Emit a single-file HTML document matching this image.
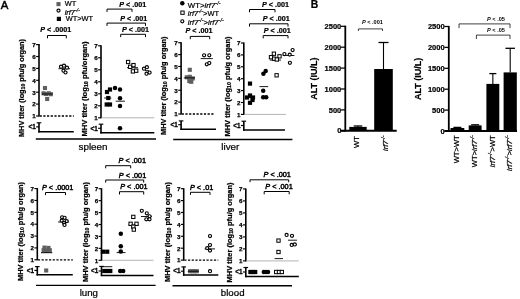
<!DOCTYPE html>
<html><head><meta charset="utf-8"><title>Figure</title>
<style>
html,body{margin:0;padding:0;background:#fff;}
svg{display:block;font-family:"Liberation Sans", sans-serif;}
</style></head><body>
<svg width="520" height="299" viewBox="0 0 520 299">
<rect width="520" height="299" fill="#fff"/>
<text x="0.70" y="8.50" font-size="11.4" font-weight="normal" font-style="normal" text-anchor="start" fill="#000" stroke="#000" stroke-width="0.45">A</text>
<text x="310.80" y="8.30" font-size="10.4" font-weight="bold" font-style="normal" text-anchor="start" fill="#000" stroke="#000" stroke-width="0.22">B</text>
<rect x="56.45" y="2.05" width="4.1" height="4.1" fill="#606060"/>
<text x="64.70" y="6.30" font-size="7.4" font-weight="normal" font-style="normal" text-anchor="start" fill="#000" stroke="#000" stroke-width="0.22">WT</text>
<circle cx="58.50" cy="10.60" r="1.55" fill="#fff" stroke="#000" stroke-width="1.15"/>
<text x="64.70" y="14.50" font-size="7.4" font-weight="normal" font-style="normal" text-anchor="start" fill="#000" stroke="#000" stroke-width="0.22"><tspan font-style="italic">irf7</tspan><tspan font-style="italic" baseline-shift="super" font-size="70%">-/-</tspan></text>
<rect x="56.80" y="16.80" width="4.2" height="4.2" fill="#000"/>
<text x="65.70" y="21.20" font-size="7.4" font-weight="normal" font-style="normal" text-anchor="start" fill="#000" stroke="#000" stroke-width="0.22">WT&gt;WT</text>
<circle cx="182.30" cy="3.30" r="2.25" fill="#000"/>
<text x="187.80" y="8.00" font-size="7.4" font-weight="normal" font-style="normal" text-anchor="start" fill="#000" stroke="#000" stroke-width="0.22" textLength="32.7" lengthAdjust="spacingAndGlyphs">WT&gt;<tspan font-style="italic">irf7</tspan><tspan font-style="italic" baseline-shift="super" font-size="70%">-/-</tspan></text>
<rect x="180.85" y="11.05" width="3.3" height="3.3" fill="#fff" stroke="#000" stroke-width="1.0"/>
<text x="187.80" y="16.40" font-size="7.4" font-weight="normal" font-style="normal" text-anchor="start" fill="#000" stroke="#000" stroke-width="0.22" textLength="31.2" lengthAdjust="spacingAndGlyphs"><tspan font-style="italic">irf7</tspan><tspan font-style="italic" baseline-shift="super" font-size="70%">-/-</tspan>&gt;WT</text>
<circle cx="182.30" cy="21.30" r="1.55" fill="#fff" stroke="#000" stroke-width="1.15"/>
<text x="187.80" y="25.00" font-size="7.4" font-weight="normal" font-style="normal" text-anchor="start" fill="#000" stroke="#000" stroke-width="0.22" textLength="35.9" lengthAdjust="spacingAndGlyphs"><tspan font-style="italic">irf7</tspan><tspan font-style="italic" baseline-shift="super" font-size="70%">-/-</tspan>&gt;<tspan font-style="italic">irf7</tspan><tspan font-style="italic" baseline-shift="super" font-size="70%">-/-</tspan></text>
<line x1="39.00" y1="44.10" x2="39.00" y2="116.50" stroke="#000" stroke-width="1.6" />
<line x1="36.10" y1="116.00" x2="39.00" y2="116.00" stroke="#000" stroke-width="1.15" />
<text x="35.70" y="118.30" font-size="6.2" font-weight="bold" font-style="normal" text-anchor="end" fill="#000" stroke="#000" stroke-width="0.25">1</text>
<line x1="36.10" y1="104.10" x2="39.00" y2="104.10" stroke="#000" stroke-width="1.15" />
<text x="35.70" y="106.40" font-size="6.2" font-weight="bold" font-style="normal" text-anchor="end" fill="#000" stroke="#000" stroke-width="0.25">2</text>
<line x1="36.10" y1="92.20" x2="39.00" y2="92.20" stroke="#000" stroke-width="1.15" />
<text x="35.70" y="94.50" font-size="6.2" font-weight="bold" font-style="normal" text-anchor="end" fill="#000" stroke="#000" stroke-width="0.25">3</text>
<line x1="36.10" y1="80.30" x2="39.00" y2="80.30" stroke="#000" stroke-width="1.15" />
<text x="35.70" y="82.60" font-size="6.2" font-weight="bold" font-style="normal" text-anchor="end" fill="#000" stroke="#000" stroke-width="0.25">4</text>
<line x1="36.10" y1="68.40" x2="39.00" y2="68.40" stroke="#000" stroke-width="1.15" />
<text x="35.70" y="70.70" font-size="6.2" font-weight="bold" font-style="normal" text-anchor="end" fill="#000" stroke="#000" stroke-width="0.25">5</text>
<line x1="36.10" y1="56.50" x2="39.00" y2="56.50" stroke="#000" stroke-width="1.15" />
<text x="35.70" y="58.80" font-size="6.2" font-weight="bold" font-style="normal" text-anchor="end" fill="#000" stroke="#000" stroke-width="0.25">6</text>
<line x1="36.10" y1="44.60" x2="39.00" y2="44.60" stroke="#000" stroke-width="1.15" />
<text x="35.70" y="46.90" font-size="6.2" font-weight="bold" font-style="normal" text-anchor="end" fill="#000" stroke="#000" stroke-width="0.25">7</text>
<line x1="39.60" y1="116.00" x2="73.80" y2="116.00" stroke="#000" stroke-width="1.35" stroke-dasharray="2.2 1.5"/>
<line x1="39.00" y1="122.80" x2="39.00" y2="132.40" stroke="#000" stroke-width="1.6" />
<line x1="36.70" y1="122.80" x2="41.30" y2="122.80" stroke="#000" stroke-width="1.15" />
<line x1="36.10" y1="126.90" x2="39.00" y2="126.90" stroke="#000" stroke-width="1.15" />
<text x="35.70" y="129.10" font-size="6.3" font-weight="bold" font-style="normal" text-anchor="end" fill="#000" stroke="#000" stroke-width="0.3">&lt;1</text>
<line x1="38.30" y1="131.70" x2="73.80" y2="131.70" stroke="#000" stroke-width="1.5" />
<text x="24.00" y="88.00" font-size="6.6" font-weight="bold" text-anchor="middle" stroke="#000" stroke-width="0.22" transform="rotate(-90 24.00 88.00)" textLength="98" lengthAdjust="spacingAndGlyphs">MHV titer (log<tspan font-size="70%" dy="1.2">10</tspan><tspan dy="-1.2"> pfu/g organ)</tspan></text>
<rect x="42.95" y="85.95" width="4.1" height="4.1" fill="#606060"/>
<rect x="41.45" y="91.25" width="4.1" height="4.1" fill="#606060"/>
<rect x="43.95" y="91.95" width="4.1" height="4.1" fill="#606060"/>
<rect x="46.75" y="91.25" width="4.1" height="4.1" fill="#606060"/>
<rect x="48.75" y="92.15" width="4.1" height="4.1" fill="#606060"/>
<rect x="45.15" y="96.95" width="4.1" height="4.1" fill="#606060"/>
<line x1="42.00" y1="94.00" x2="52.80" y2="94.00" stroke="#000" stroke-width="0.9" />
<line x1="58.50" y1="68.70" x2="70.00" y2="68.70" stroke="#000" stroke-width="0.9" />
<circle cx="61.00" cy="66.70" r="1.55" fill="#fff" stroke="#000" stroke-width="1.15"/>
<circle cx="64.00" cy="65.70" r="1.55" fill="#fff" stroke="#000" stroke-width="1.15"/>
<circle cx="67.00" cy="67.70" r="1.55" fill="#fff" stroke="#000" stroke-width="1.15"/>
<circle cx="63.50" cy="70.70" r="1.55" fill="#fff" stroke="#000" stroke-width="1.15"/>
<circle cx="65.50" cy="72.50" r="1.55" fill="#fff" stroke="#000" stroke-width="1.15"/>
<text x="55.80" y="31.50" font-size="7.2" font-weight="bold" text-anchor="middle" stroke="#000" stroke-width="0.22"><tspan font-style="italic">P</tspan> &lt; .0001</text>
<path d="M47.50 38.30V35.50H66.30V38.30" fill="none" stroke="#000" stroke-width="1.0"/>
<line x1="101.00" y1="45.30" x2="101.00" y2="118.30" stroke="#000" stroke-width="1.6" />
<line x1="98.10" y1="117.80" x2="101.00" y2="117.80" stroke="#000" stroke-width="1.15" />
<text x="97.70" y="120.10" font-size="6.2" font-weight="bold" font-style="normal" text-anchor="end" fill="#000" stroke="#000" stroke-width="0.25">1</text>
<line x1="98.10" y1="105.80" x2="101.00" y2="105.80" stroke="#000" stroke-width="1.15" />
<text x="97.70" y="108.10" font-size="6.2" font-weight="bold" font-style="normal" text-anchor="end" fill="#000" stroke="#000" stroke-width="0.25">2</text>
<line x1="98.10" y1="93.80" x2="101.00" y2="93.80" stroke="#000" stroke-width="1.15" />
<text x="97.70" y="96.10" font-size="6.2" font-weight="bold" font-style="normal" text-anchor="end" fill="#000" stroke="#000" stroke-width="0.25">3</text>
<line x1="98.10" y1="81.80" x2="101.00" y2="81.80" stroke="#000" stroke-width="1.15" />
<text x="97.70" y="84.10" font-size="6.2" font-weight="bold" font-style="normal" text-anchor="end" fill="#000" stroke="#000" stroke-width="0.25">4</text>
<line x1="98.10" y1="69.80" x2="101.00" y2="69.80" stroke="#000" stroke-width="1.15" />
<text x="97.70" y="72.10" font-size="6.2" font-weight="bold" font-style="normal" text-anchor="end" fill="#000" stroke="#000" stroke-width="0.25">5</text>
<line x1="98.10" y1="57.80" x2="101.00" y2="57.80" stroke="#000" stroke-width="1.15" />
<text x="97.70" y="60.10" font-size="6.2" font-weight="bold" font-style="normal" text-anchor="end" fill="#000" stroke="#000" stroke-width="0.25">6</text>
<line x1="98.10" y1="45.80" x2="101.00" y2="45.80" stroke="#000" stroke-width="1.15" />
<text x="97.70" y="48.10" font-size="6.2" font-weight="bold" font-style="normal" text-anchor="end" fill="#000" stroke="#000" stroke-width="0.25">7</text>
<line x1="101.50" y1="117.80" x2="154.30" y2="117.80" stroke="#999" stroke-width="0.75" />
<line x1="101.00" y1="124.20" x2="101.00" y2="133.40" stroke="#000" stroke-width="1.6" />
<line x1="98.70" y1="124.20" x2="103.30" y2="124.20" stroke="#000" stroke-width="1.15" />
<line x1="98.10" y1="128.30" x2="101.00" y2="128.30" stroke="#000" stroke-width="1.15" />
<text x="97.70" y="130.50" font-size="6.3" font-weight="bold" font-style="normal" text-anchor="end" fill="#000" stroke="#000" stroke-width="0.3">&lt;1</text>
<line x1="100.30" y1="132.70" x2="154.30" y2="132.70" stroke="#000" stroke-width="1.5" />
<text x="87.00" y="89.00" font-size="6.6" font-weight="bold" text-anchor="middle" stroke="#000" stroke-width="0.22" transform="rotate(-90 87.00 89.00)" textLength="95" lengthAdjust="spacingAndGlyphs">MHV titer (log<tspan font-size="70%" dy="1.2">10</tspan><tspan dy="-1.2"> pfu/organ)</tspan></text>
<line x1="104.20" y1="98.00" x2="111.30" y2="98.00" stroke="#000" stroke-width="0.9" />
<rect x="107.90" y="87.40" width="4.2" height="4.2" fill="#000"/>
<rect x="104.90" y="89.90" width="4.2" height="4.2" fill="#000"/>
<rect x="106.20" y="95.90" width="4.2" height="4.2" fill="#000"/>
<rect x="104.60" y="102.40" width="4.2" height="4.2" fill="#000"/>
<rect x="107.90" y="102.40" width="4.2" height="4.2" fill="#000"/>
<line x1="115.70" y1="101.20" x2="125.00" y2="101.20" stroke="#000" stroke-width="0.9" />
<circle cx="115.00" cy="88.00" r="2.25" fill="#000"/>
<circle cx="120.00" cy="89.40" r="2.25" fill="#000"/>
<circle cx="120.00" cy="98.20" r="2.25" fill="#000"/>
<circle cx="120.00" cy="106.00" r="2.25" fill="#000"/>
<circle cx="120.00" cy="128.30" r="2.25" fill="#000"/>
<line x1="127.00" y1="67.70" x2="138.00" y2="67.70" stroke="#000" stroke-width="0.9" />
<rect x="126.45" y="60.35" width="3.3" height="3.3" fill="#fff" stroke="#000" stroke-width="1.0"/>
<rect x="128.55" y="65.15" width="3.3" height="3.3" fill="#fff" stroke="#000" stroke-width="1.0"/>
<rect x="131.85" y="63.45" width="3.3" height="3.3" fill="#fff" stroke="#000" stroke-width="1.0"/>
<rect x="131.25" y="69.75" width="3.3" height="3.3" fill="#fff" stroke="#000" stroke-width="1.0"/>
<rect x="134.55" y="69.05" width="3.3" height="3.3" fill="#fff" stroke="#000" stroke-width="1.0"/>
<line x1="145.00" y1="70.60" x2="149.00" y2="70.60" stroke="#000" stroke-width="0.9" />
<circle cx="144.00" cy="68.70" r="1.55" fill="#fff" stroke="#000" stroke-width="1.15"/>
<circle cx="146.90" cy="67.20" r="1.55" fill="#fff" stroke="#000" stroke-width="1.15"/>
<circle cx="146.50" cy="73.70" r="1.55" fill="#fff" stroke="#000" stroke-width="1.15"/>
<circle cx="149.60" cy="72.60" r="1.55" fill="#fff" stroke="#000" stroke-width="1.15"/>
<text x="132.80" y="6.70" font-size="7.2" font-weight="bold" text-anchor="middle" stroke="#000" stroke-width="0.22"><tspan font-style="italic">P</tspan> &lt; .001</text>
<path d="M107.00 11.90V9.10H132.00V11.90" fill="none" stroke="#000" stroke-width="1.0"/>
<text x="133.70" y="20.70" font-size="7.2" font-weight="bold" text-anchor="middle" stroke="#000" stroke-width="0.22"><tspan font-style="italic">P</tspan> &lt; .001</text>
<path d="M107.00 25.90V23.10H145.50V25.90" fill="none" stroke="#000" stroke-width="1.0"/>
<text x="135.50" y="32.30" font-size="7.2" font-weight="bold" text-anchor="middle" stroke="#000" stroke-width="0.22"><tspan font-style="italic">P</tspan> &lt; .001</text>
<path d="M120.70 37.10V34.30H145.50V37.10" fill="none" stroke="#000" stroke-width="1.0"/>
<line x1="35.80" y1="139.00" x2="156.00" y2="139.00" stroke="#000" stroke-width="1.35" />
<text x="93.00" y="149.50" font-size="9.85" font-weight="normal" font-style="normal" text-anchor="middle" fill="#000" stroke="#000" stroke-width="0.22">spleen</text>
<line x1="181.10" y1="42.22" x2="181.10" y2="114.50" stroke="#000" stroke-width="1.6" />
<line x1="178.20" y1="114.00" x2="181.10" y2="114.00" stroke="#000" stroke-width="1.15" />
<text x="177.80" y="116.30" font-size="6.2" font-weight="bold" font-style="normal" text-anchor="end" fill="#000" stroke="#000" stroke-width="0.25">1</text>
<line x1="178.20" y1="102.12" x2="181.10" y2="102.12" stroke="#000" stroke-width="1.15" />
<text x="177.80" y="104.42" font-size="6.2" font-weight="bold" font-style="normal" text-anchor="end" fill="#000" stroke="#000" stroke-width="0.25">2</text>
<line x1="178.20" y1="90.24" x2="181.10" y2="90.24" stroke="#000" stroke-width="1.15" />
<text x="177.80" y="92.54" font-size="6.2" font-weight="bold" font-style="normal" text-anchor="end" fill="#000" stroke="#000" stroke-width="0.25">3</text>
<line x1="178.20" y1="78.36" x2="181.10" y2="78.36" stroke="#000" stroke-width="1.15" />
<text x="177.80" y="80.66" font-size="6.2" font-weight="bold" font-style="normal" text-anchor="end" fill="#000" stroke="#000" stroke-width="0.25">4</text>
<line x1="178.20" y1="66.48" x2="181.10" y2="66.48" stroke="#000" stroke-width="1.15" />
<text x="177.80" y="68.78" font-size="6.2" font-weight="bold" font-style="normal" text-anchor="end" fill="#000" stroke="#000" stroke-width="0.25">5</text>
<line x1="178.20" y1="54.60" x2="181.10" y2="54.60" stroke="#000" stroke-width="1.15" />
<text x="177.80" y="56.90" font-size="6.2" font-weight="bold" font-style="normal" text-anchor="end" fill="#000" stroke="#000" stroke-width="0.25">6</text>
<line x1="178.20" y1="42.72" x2="181.10" y2="42.72" stroke="#000" stroke-width="1.15" />
<text x="177.80" y="45.02" font-size="6.2" font-weight="bold" font-style="normal" text-anchor="end" fill="#000" stroke="#000" stroke-width="0.25">7</text>
<line x1="181.70" y1="114.00" x2="214.50" y2="114.00" stroke="#000" stroke-width="1.35" stroke-dasharray="2.2 1.5"/>
<line x1="181.10" y1="120.90" x2="181.10" y2="130.00" stroke="#000" stroke-width="1.6" />
<line x1="178.80" y1="120.90" x2="183.40" y2="120.90" stroke="#000" stroke-width="1.15" />
<line x1="178.20" y1="124.70" x2="181.10" y2="124.70" stroke="#000" stroke-width="1.15" />
<text x="177.80" y="126.90" font-size="6.3" font-weight="bold" font-style="normal" text-anchor="end" fill="#000" stroke="#000" stroke-width="0.3">&lt;1</text>
<line x1="180.40" y1="129.30" x2="216.00" y2="129.30" stroke="#000" stroke-width="1.5" />
<text x="165.80" y="85.70" font-size="6.6" font-weight="bold" text-anchor="middle" stroke="#000" stroke-width="0.22" transform="rotate(-90 165.80 85.70)" textLength="98.5" lengthAdjust="spacingAndGlyphs">MHV titer (log<tspan font-size="70%" dy="1.2">10</tspan><tspan dy="-1.2"> pfu/g organ)</tspan></text>
<rect x="187.75" y="67.75" width="4.1" height="4.1" fill="#606060"/>
<rect x="184.75" y="75.25" width="4.1" height="4.1" fill="#606060"/>
<rect x="187.75" y="74.75" width="4.1" height="4.1" fill="#606060"/>
<rect x="190.75" y="76.35" width="4.1" height="4.1" fill="#606060"/>
<rect x="187.25" y="79.05" width="4.1" height="4.1" fill="#606060"/>
<rect x="189.25" y="79.75" width="4.1" height="4.1" fill="#606060"/>
<line x1="183.80" y1="77.90" x2="195.00" y2="77.90" stroke="#000" stroke-width="0.9" />
<line x1="200.70" y1="58.60" x2="212.80" y2="58.60" stroke="#000" stroke-width="0.9" />
<circle cx="204.10" cy="55.30" r="1.55" fill="#fff" stroke="#000" stroke-width="1.15"/>
<circle cx="209.30" cy="55.30" r="1.55" fill="#fff" stroke="#000" stroke-width="1.15"/>
<circle cx="206.80" cy="64.30" r="1.55" fill="#fff" stroke="#000" stroke-width="1.15"/>
<circle cx="209.30" cy="63.00" r="1.55" fill="#fff" stroke="#000" stroke-width="1.15"/>
<text x="199.00" y="32.60" font-size="7.2" font-weight="bold" text-anchor="middle" stroke="#000" stroke-width="0.22"><tspan font-style="italic">P</tspan> &lt; .001</text>
<path d="M190.30 39.20V36.40H209.70V39.20" fill="none" stroke="#000" stroke-width="1.0"/>
<line x1="243.80" y1="42.50" x2="243.80" y2="114.90" stroke="#000" stroke-width="1.6" />
<line x1="240.90" y1="114.40" x2="243.80" y2="114.40" stroke="#000" stroke-width="1.15" />
<text x="240.50" y="116.70" font-size="6.2" font-weight="bold" font-style="normal" text-anchor="end" fill="#000" stroke="#000" stroke-width="0.25">1</text>
<line x1="240.90" y1="102.50" x2="243.80" y2="102.50" stroke="#000" stroke-width="1.15" />
<text x="240.50" y="104.80" font-size="6.2" font-weight="bold" font-style="normal" text-anchor="end" fill="#000" stroke="#000" stroke-width="0.25">2</text>
<line x1="240.90" y1="90.60" x2="243.80" y2="90.60" stroke="#000" stroke-width="1.15" />
<text x="240.50" y="92.90" font-size="6.2" font-weight="bold" font-style="normal" text-anchor="end" fill="#000" stroke="#000" stroke-width="0.25">3</text>
<line x1="240.90" y1="78.70" x2="243.80" y2="78.70" stroke="#000" stroke-width="1.15" />
<text x="240.50" y="81.00" font-size="6.2" font-weight="bold" font-style="normal" text-anchor="end" fill="#000" stroke="#000" stroke-width="0.25">4</text>
<line x1="240.90" y1="66.80" x2="243.80" y2="66.80" stroke="#000" stroke-width="1.15" />
<text x="240.50" y="69.10" font-size="6.2" font-weight="bold" font-style="normal" text-anchor="end" fill="#000" stroke="#000" stroke-width="0.25">5</text>
<line x1="240.90" y1="54.90" x2="243.80" y2="54.90" stroke="#000" stroke-width="1.15" />
<text x="240.50" y="57.20" font-size="6.2" font-weight="bold" font-style="normal" text-anchor="end" fill="#000" stroke="#000" stroke-width="0.25">6</text>
<line x1="240.90" y1="43.00" x2="243.80" y2="43.00" stroke="#000" stroke-width="1.15" />
<text x="240.50" y="45.30" font-size="6.2" font-weight="bold" font-style="normal" text-anchor="end" fill="#000" stroke="#000" stroke-width="0.25">7</text>
<line x1="244.30" y1="114.40" x2="286.00" y2="114.40" stroke="#999" stroke-width="0.75" />
<line x1="243.80" y1="121.20" x2="243.80" y2="130.70" stroke="#000" stroke-width="1.6" />
<line x1="241.50" y1="121.20" x2="246.10" y2="121.20" stroke="#000" stroke-width="1.15" />
<line x1="240.90" y1="125.50" x2="243.80" y2="125.50" stroke="#000" stroke-width="1.15" />
<text x="240.50" y="127.70" font-size="6.3" font-weight="bold" font-style="normal" text-anchor="end" fill="#000" stroke="#000" stroke-width="0.3">&lt;1</text>
<line x1="243.10" y1="130.00" x2="285.00" y2="130.00" stroke="#000" stroke-width="1.5" />
<text x="229.60" y="86.50" font-size="6.6" font-weight="bold" text-anchor="middle" stroke="#000" stroke-width="0.22" transform="rotate(-90 229.60 86.50)" textLength="100" lengthAdjust="spacingAndGlyphs">MHV titer (log<tspan font-size="70%" dy="1.2">10</tspan><tspan dy="-1.2"> pfu/g organ)</tspan></text>
<rect x="247.90" y="81.50" width="4.2" height="4.2" fill="#000"/>
<rect x="244.90" y="95.40" width="4.2" height="4.2" fill="#000"/>
<rect x="247.90" y="93.40" width="4.2" height="4.2" fill="#000"/>
<rect x="250.90" y="95.40" width="4.2" height="4.2" fill="#000"/>
<rect x="247.90" y="100.70" width="4.2" height="4.2" fill="#000"/>
<rect x="250.40" y="97.90" width="4.2" height="4.2" fill="#000"/>
<line x1="246.00" y1="97.50" x2="254.50" y2="97.50" stroke="#000" stroke-width="0.9" />
<line x1="259.50" y1="86.60" x2="268.20" y2="86.60" stroke="#000" stroke-width="0.9" />
<circle cx="265.70" cy="70.90" r="2.25" fill="#000"/>
<circle cx="263.40" cy="73.70" r="2.25" fill="#000"/>
<circle cx="263.20" cy="90.80" r="2.25" fill="#000"/>
<circle cx="263.20" cy="97.20" r="2.25" fill="#000"/>
<circle cx="266.20" cy="97.20" r="2.25" fill="#000"/>
<line x1="269.80" y1="60.10" x2="281.00" y2="60.10" stroke="#000" stroke-width="0.9" />
<rect x="272.25" y="52.05" width="3.3" height="3.3" fill="#fff" stroke="#000" stroke-width="1.0"/>
<rect x="269.35" y="55.55" width="3.3" height="3.3" fill="#fff" stroke="#000" stroke-width="1.0"/>
<rect x="277.85" y="54.65" width="3.3" height="3.3" fill="#fff" stroke="#000" stroke-width="1.0"/>
<rect x="272.55" y="57.05" width="3.3" height="3.3" fill="#fff" stroke="#000" stroke-width="1.0"/>
<rect x="275.15" y="57.85" width="3.3" height="3.3" fill="#fff" stroke="#000" stroke-width="1.0"/>
<rect x="274.95" y="73.65" width="3.3" height="3.3" fill="#fff" stroke="#000" stroke-width="1.0"/>
<line x1="282.70" y1="55.50" x2="294.40" y2="55.50" stroke="#000" stroke-width="0.9" />
<circle cx="284.40" cy="54.00" r="1.55" fill="#fff" stroke="#000" stroke-width="1.15"/>
<circle cx="289.70" cy="54.60" r="1.55" fill="#fff" stroke="#000" stroke-width="1.15"/>
<circle cx="292.60" cy="50.00" r="1.55" fill="#fff" stroke="#000" stroke-width="1.15"/>
<circle cx="289.90" cy="62.80" r="1.55" fill="#fff" stroke="#000" stroke-width="1.15"/>
<text x="275.40" y="6.80" font-size="7.2" font-weight="bold" text-anchor="middle" stroke="#000" stroke-width="0.22"><tspan font-style="italic">P</tspan> &lt; .001</text>
<path d="M249.50 12.30V9.50H275.00V12.30" fill="none" stroke="#000" stroke-width="1.0"/>
<text x="276.20" y="21.00" font-size="7.2" font-weight="bold" text-anchor="middle" stroke="#000" stroke-width="0.22"><tspan font-style="italic">P</tspan> &lt; .001</text>
<path d="M249.50 26.60V23.80H288.00V26.60" fill="none" stroke="#000" stroke-width="1.0"/>
<text x="277.20" y="32.80" font-size="7.2" font-weight="bold" text-anchor="middle" stroke="#000" stroke-width="0.22"><tspan font-style="italic">P</tspan> &lt; .001</text>
<path d="M263.20 38.40V35.60H288.00V38.40" fill="none" stroke="#000" stroke-width="1.0"/>
<line x1="173.20" y1="139.50" x2="292.40" y2="139.50" stroke="#000" stroke-width="1.35" />
<text x="230.30" y="149.90" font-size="9.85" font-weight="normal" font-style="normal" text-anchor="middle" fill="#000" stroke="#000" stroke-width="0.22">liver</text>
<line x1="37.30" y1="188.08" x2="37.30" y2="260.30" stroke="#000" stroke-width="1.6" />
<line x1="34.40" y1="259.80" x2="37.30" y2="259.80" stroke="#000" stroke-width="1.15" />
<text x="34.00" y="262.10" font-size="6.2" font-weight="bold" font-style="normal" text-anchor="end" fill="#000" stroke="#000" stroke-width="0.25">1</text>
<line x1="34.40" y1="247.93" x2="37.30" y2="247.93" stroke="#000" stroke-width="1.15" />
<text x="34.00" y="250.23" font-size="6.2" font-weight="bold" font-style="normal" text-anchor="end" fill="#000" stroke="#000" stroke-width="0.25">2</text>
<line x1="34.40" y1="236.06" x2="37.30" y2="236.06" stroke="#000" stroke-width="1.15" />
<text x="34.00" y="238.36" font-size="6.2" font-weight="bold" font-style="normal" text-anchor="end" fill="#000" stroke="#000" stroke-width="0.25">3</text>
<line x1="34.40" y1="224.19" x2="37.30" y2="224.19" stroke="#000" stroke-width="1.15" />
<text x="34.00" y="226.49" font-size="6.2" font-weight="bold" font-style="normal" text-anchor="end" fill="#000" stroke="#000" stroke-width="0.25">4</text>
<line x1="34.40" y1="212.32" x2="37.30" y2="212.32" stroke="#000" stroke-width="1.15" />
<text x="34.00" y="214.62" font-size="6.2" font-weight="bold" font-style="normal" text-anchor="end" fill="#000" stroke="#000" stroke-width="0.25">5</text>
<line x1="34.40" y1="200.45" x2="37.30" y2="200.45" stroke="#000" stroke-width="1.15" />
<text x="34.00" y="202.75" font-size="6.2" font-weight="bold" font-style="normal" text-anchor="end" fill="#000" stroke="#000" stroke-width="0.25">6</text>
<line x1="34.40" y1="188.58" x2="37.30" y2="188.58" stroke="#000" stroke-width="1.15" />
<text x="34.00" y="190.88" font-size="6.2" font-weight="bold" font-style="normal" text-anchor="end" fill="#000" stroke="#000" stroke-width="0.25">7</text>
<line x1="37.90" y1="259.80" x2="72.80" y2="259.80" stroke="#000" stroke-width="1.35" stroke-dasharray="2.2 1.5"/>
<line x1="37.30" y1="266.60" x2="37.30" y2="275.50" stroke="#000" stroke-width="1.6" />
<line x1="35.00" y1="266.60" x2="39.60" y2="266.60" stroke="#000" stroke-width="1.15" />
<line x1="34.40" y1="270.40" x2="37.30" y2="270.40" stroke="#000" stroke-width="1.15" />
<text x="34.00" y="272.60" font-size="6.3" font-weight="bold" font-style="normal" text-anchor="end" fill="#000" stroke="#000" stroke-width="0.3">&lt;1</text>
<line x1="36.60" y1="274.80" x2="72.80" y2="274.80" stroke="#000" stroke-width="1.5" />
<text x="22.50" y="231.50" font-size="6.6" font-weight="bold" text-anchor="middle" stroke="#000" stroke-width="0.22" transform="rotate(-90 22.50 231.50)" textLength="99" lengthAdjust="spacingAndGlyphs">MHV titer (log<tspan font-size="70%" dy="1.2">10</tspan><tspan dy="-1.2"> pfu/g organ)</tspan></text>
<rect x="42.45" y="245.55" width="4.1" height="4.1" fill="#606060"/>
<rect x="46.45" y="245.85" width="4.1" height="4.1" fill="#606060"/>
<rect x="41.55" y="248.15" width="4.1" height="4.1" fill="#606060"/>
<rect x="44.55" y="248.55" width="4.1" height="4.1" fill="#606060"/>
<rect x="47.75" y="248.15" width="4.1" height="4.1" fill="#606060"/>
<rect x="44.15" y="268.45" width="4.1" height="4.1" fill="#606060"/>
<line x1="41.00" y1="252.70" x2="52.30" y2="252.70" stroke="#000" stroke-width="1.0" />
<line x1="58.00" y1="222.00" x2="69.00" y2="222.00" stroke="#000" stroke-width="0.9" />
<circle cx="62.10" cy="217.30" r="1.55" fill="#fff" stroke="#000" stroke-width="1.15"/>
<circle cx="64.60" cy="217.80" r="1.55" fill="#fff" stroke="#000" stroke-width="1.15"/>
<circle cx="61.70" cy="220.60" r="1.55" fill="#fff" stroke="#000" stroke-width="1.15"/>
<circle cx="66.70" cy="221.10" r="1.55" fill="#fff" stroke="#000" stroke-width="1.15"/>
<circle cx="64.10" cy="223.00" r="1.55" fill="#fff" stroke="#000" stroke-width="1.15"/>
<circle cx="64.50" cy="224.90" r="1.55" fill="#fff" stroke="#000" stroke-width="1.15"/>
<text x="57.70" y="190.30" font-size="7.3" font-weight="normal" text-anchor="middle" stroke="#000" stroke-width="0.45"><tspan font-style="italic">P</tspan> &lt; .0001</text>
<path d="M45.50 195.10V192.50H65.50V195.10" fill="none" stroke="#000" stroke-width="1.0"/>
<line x1="101.50" y1="188.22" x2="101.50" y2="260.80" stroke="#000" stroke-width="1.6" />
<line x1="98.60" y1="260.30" x2="101.50" y2="260.30" stroke="#000" stroke-width="1.15" />
<text x="98.20" y="262.60" font-size="6.2" font-weight="bold" font-style="normal" text-anchor="end" fill="#000" stroke="#000" stroke-width="0.25">1</text>
<line x1="98.60" y1="248.37" x2="101.50" y2="248.37" stroke="#000" stroke-width="1.15" />
<text x="98.20" y="250.67" font-size="6.2" font-weight="bold" font-style="normal" text-anchor="end" fill="#000" stroke="#000" stroke-width="0.25">2</text>
<line x1="98.60" y1="236.44" x2="101.50" y2="236.44" stroke="#000" stroke-width="1.15" />
<text x="98.20" y="238.74" font-size="6.2" font-weight="bold" font-style="normal" text-anchor="end" fill="#000" stroke="#000" stroke-width="0.25">3</text>
<line x1="98.60" y1="224.51" x2="101.50" y2="224.51" stroke="#000" stroke-width="1.15" />
<text x="98.20" y="226.81" font-size="6.2" font-weight="bold" font-style="normal" text-anchor="end" fill="#000" stroke="#000" stroke-width="0.25">4</text>
<line x1="98.60" y1="212.58" x2="101.50" y2="212.58" stroke="#000" stroke-width="1.15" />
<text x="98.20" y="214.88" font-size="6.2" font-weight="bold" font-style="normal" text-anchor="end" fill="#000" stroke="#000" stroke-width="0.25">5</text>
<line x1="98.60" y1="200.65" x2="101.50" y2="200.65" stroke="#000" stroke-width="1.15" />
<text x="98.20" y="202.95" font-size="6.2" font-weight="bold" font-style="normal" text-anchor="end" fill="#000" stroke="#000" stroke-width="0.25">6</text>
<line x1="98.60" y1="188.72" x2="101.50" y2="188.72" stroke="#000" stroke-width="1.15" />
<text x="98.20" y="191.02" font-size="6.2" font-weight="bold" font-style="normal" text-anchor="end" fill="#000" stroke="#000" stroke-width="0.25">7</text>
<line x1="102.00" y1="260.30" x2="153.50" y2="260.30" stroke="#999" stroke-width="0.75" />
<line x1="101.50" y1="266.40" x2="101.50" y2="276.10" stroke="#000" stroke-width="1.6" />
<line x1="99.20" y1="266.40" x2="103.80" y2="266.40" stroke="#000" stroke-width="1.15" />
<line x1="98.60" y1="271.00" x2="101.50" y2="271.00" stroke="#000" stroke-width="1.15" />
<text x="98.20" y="273.20" font-size="6.3" font-weight="bold" font-style="normal" text-anchor="end" fill="#000" stroke="#000" stroke-width="0.3">&lt;1</text>
<line x1="100.80" y1="275.40" x2="153.50" y2="275.40" stroke="#000" stroke-width="1.5" />
<text x="87.50" y="232.00" font-size="6.6" font-weight="bold" text-anchor="middle" stroke="#000" stroke-width="0.22" transform="rotate(-90 87.50 232.00)" textLength="100" lengthAdjust="spacingAndGlyphs">MHV titer (log<tspan font-size="70%" dy="1.2">10</tspan><tspan dy="-1.2"> pfu/g organ)</tspan></text>
<rect x="100.80" y="249.60" width="4.2" height="4.2" fill="#000"/>
<rect x="105.10" y="249.60" width="4.2" height="4.2" fill="#000"/>
<rect x="102.20" y="268.90" width="4.2" height="4.2" fill="#000"/>
<rect x="105.20" y="268.90" width="4.2" height="4.2" fill="#000"/>
<rect x="108.20" y="268.90" width="4.2" height="4.2" fill="#000"/>
<line x1="101.00" y1="266.70" x2="112.30" y2="266.70" stroke="#000" stroke-width="0.9" />
<line x1="116.60" y1="252.60" x2="125.50" y2="252.60" stroke="#000" stroke-width="0.9" />
<circle cx="120.80" cy="233.80" r="2.25" fill="#000"/>
<circle cx="120.80" cy="246.30" r="2.25" fill="#000"/>
<circle cx="120.80" cy="251.60" r="2.25" fill="#000"/>
<circle cx="120.20" cy="271.00" r="2.25" fill="#000"/>
<circle cx="123.20" cy="271.00" r="2.25" fill="#000"/>
<line x1="128.50" y1="225.00" x2="138.50" y2="225.00" stroke="#000" stroke-width="0.9" />
<rect x="131.65" y="215.25" width="3.3" height="3.3" fill="#fff" stroke="#000" stroke-width="1.0"/>
<rect x="128.95" y="222.15" width="3.3" height="3.3" fill="#fff" stroke="#000" stroke-width="1.0"/>
<rect x="134.85" y="222.15" width="3.3" height="3.3" fill="#fff" stroke="#000" stroke-width="1.0"/>
<rect x="131.65" y="225.05" width="3.3" height="3.3" fill="#fff" stroke="#000" stroke-width="1.0"/>
<rect x="132.15" y="227.95" width="3.3" height="3.3" fill="#fff" stroke="#000" stroke-width="1.0"/>
<line x1="141.00" y1="216.50" x2="152.00" y2="216.50" stroke="#000" stroke-width="0.9" />
<circle cx="141.80" cy="210.80" r="1.55" fill="#fff" stroke="#000" stroke-width="1.15"/>
<circle cx="146.80" cy="213.30" r="1.55" fill="#fff" stroke="#000" stroke-width="1.15"/>
<circle cx="149.60" cy="216.30" r="1.55" fill="#fff" stroke="#000" stroke-width="1.15"/>
<circle cx="146.30" cy="219.30" r="1.55" fill="#fff" stroke="#000" stroke-width="1.15"/>
<circle cx="149.50" cy="219.30" r="1.55" fill="#fff" stroke="#000" stroke-width="1.15"/>
<text x="132.30" y="163.40" font-size="7.3" font-weight="normal" text-anchor="middle" stroke="#000" stroke-width="0.45"><tspan font-style="italic">P</tspan> &lt; .001</text>
<path d="M105.70 168.30V165.70H130.70V168.30" fill="none" stroke="#000" stroke-width="1.0"/>
<text x="132.50" y="177.70" font-size="7.3" font-weight="normal" text-anchor="middle" stroke="#000" stroke-width="0.45"><tspan font-style="italic">P</tspan> &lt; .001</text>
<path d="M105.70 182.60V180.00H143.70V182.60" fill="none" stroke="#000" stroke-width="1.0"/>
<text x="133.90" y="189.10" font-size="7.3" font-weight="normal" text-anchor="middle" stroke="#000" stroke-width="0.45"><tspan font-style="italic">P</tspan> &lt; .001</text>
<path d="M119.50 194.50V191.70H143.70V194.50" fill="none" stroke="#000" stroke-width="1.0"/>
<line x1="36.00" y1="285.30" x2="155.60" y2="285.30" stroke="#000" stroke-width="1.35" />
<text x="88.80" y="296.00" font-size="9.7" font-weight="normal" font-style="normal" text-anchor="middle" fill="#000" stroke="#000" stroke-width="0.22">lung</text>
<line x1="183.70" y1="188.20" x2="183.70" y2="260.60" stroke="#000" stroke-width="1.6" />
<line x1="180.80" y1="260.10" x2="183.70" y2="260.10" stroke="#000" stroke-width="1.15" />
<text x="180.40" y="262.40" font-size="6.2" font-weight="bold" font-style="normal" text-anchor="end" fill="#000" stroke="#000" stroke-width="0.25">1</text>
<line x1="180.80" y1="248.20" x2="183.70" y2="248.20" stroke="#000" stroke-width="1.15" />
<text x="180.40" y="250.50" font-size="6.2" font-weight="bold" font-style="normal" text-anchor="end" fill="#000" stroke="#000" stroke-width="0.25">2</text>
<line x1="180.80" y1="236.30" x2="183.70" y2="236.30" stroke="#000" stroke-width="1.15" />
<text x="180.40" y="238.60" font-size="6.2" font-weight="bold" font-style="normal" text-anchor="end" fill="#000" stroke="#000" stroke-width="0.25">3</text>
<line x1="180.80" y1="224.40" x2="183.70" y2="224.40" stroke="#000" stroke-width="1.15" />
<text x="180.40" y="226.70" font-size="6.2" font-weight="bold" font-style="normal" text-anchor="end" fill="#000" stroke="#000" stroke-width="0.25">4</text>
<line x1="180.80" y1="212.50" x2="183.70" y2="212.50" stroke="#000" stroke-width="1.15" />
<text x="180.40" y="214.80" font-size="6.2" font-weight="bold" font-style="normal" text-anchor="end" fill="#000" stroke="#000" stroke-width="0.25">5</text>
<line x1="180.80" y1="200.60" x2="183.70" y2="200.60" stroke="#000" stroke-width="1.15" />
<text x="180.40" y="202.90" font-size="6.2" font-weight="bold" font-style="normal" text-anchor="end" fill="#000" stroke="#000" stroke-width="0.25">6</text>
<line x1="180.80" y1="188.70" x2="183.70" y2="188.70" stroke="#000" stroke-width="1.15" />
<text x="180.40" y="191.00" font-size="6.2" font-weight="bold" font-style="normal" text-anchor="end" fill="#000" stroke="#000" stroke-width="0.25">7</text>
<line x1="184.30" y1="260.10" x2="218.30" y2="260.10" stroke="#000" stroke-width="1.35" stroke-dasharray="2.2 1.5"/>
<line x1="183.70" y1="266.90" x2="183.70" y2="275.80" stroke="#000" stroke-width="1.6" />
<line x1="181.40" y1="266.90" x2="186.00" y2="266.90" stroke="#000" stroke-width="1.15" />
<line x1="180.80" y1="271.20" x2="183.70" y2="271.20" stroke="#000" stroke-width="1.15" />
<text x="180.40" y="273.40" font-size="6.3" font-weight="bold" font-style="normal" text-anchor="end" fill="#000" stroke="#000" stroke-width="0.3">&lt;1</text>
<line x1="183.00" y1="275.10" x2="218.30" y2="275.10" stroke="#000" stroke-width="1.5" />
<text x="169.50" y="232.00" font-size="6.6" font-weight="bold" text-anchor="middle" stroke="#000" stroke-width="0.22" transform="rotate(-90 169.50 232.00)" textLength="100" lengthAdjust="spacingAndGlyphs">MHV titer (log<tspan font-size="70%" dy="1.2">10</tspan><tspan dy="-1.2"> pfu/g organ)</tspan></text>
<rect x="188.05" y="269.15" width="4.1" height="4.1" fill="#606060"/>
<rect x="190.45" y="269.15" width="4.1" height="4.1" fill="#606060"/>
<rect x="192.75" y="269.15" width="4.1" height="4.1" fill="#606060"/>
<rect x="194.75" y="269.15" width="4.1" height="4.1" fill="#606060"/>
<line x1="187.80" y1="271.20" x2="198.80" y2="271.20" stroke="#000" stroke-width="1.0" />
<line x1="204.60" y1="248.90" x2="215.00" y2="248.90" stroke="#000" stroke-width="0.9" />
<circle cx="210.00" cy="236.00" r="1.55" fill="#fff" stroke="#000" stroke-width="1.15"/>
<circle cx="210.00" cy="245.00" r="1.55" fill="#fff" stroke="#000" stroke-width="1.15"/>
<circle cx="207.20" cy="248.10" r="1.55" fill="#fff" stroke="#000" stroke-width="1.15"/>
<circle cx="210.00" cy="250.60" r="1.55" fill="#fff" stroke="#000" stroke-width="1.15"/>
<circle cx="210.00" cy="271.20" r="1.55" fill="#fff" stroke="#000" stroke-width="1.15"/>
<text x="201.60" y="189.70" font-size="7.3" font-weight="normal" text-anchor="middle" stroke="#000" stroke-width="0.45"><tspan font-style="italic">P</tspan> &lt; .01</text>
<path d="M190.50 194.90V192.30H210.00V194.90" fill="none" stroke="#000" stroke-width="1.0"/>
<line x1="245.80" y1="188.40" x2="245.80" y2="261.40" stroke="#000" stroke-width="1.6" />
<line x1="242.90" y1="260.90" x2="245.80" y2="260.90" stroke="#000" stroke-width="1.15" />
<text x="242.50" y="263.20" font-size="6.2" font-weight="bold" font-style="normal" text-anchor="end" fill="#000" stroke="#000" stroke-width="0.25">1</text>
<line x1="242.90" y1="248.90" x2="245.80" y2="248.90" stroke="#000" stroke-width="1.15" />
<text x="242.50" y="251.20" font-size="6.2" font-weight="bold" font-style="normal" text-anchor="end" fill="#000" stroke="#000" stroke-width="0.25">2</text>
<line x1="242.90" y1="236.90" x2="245.80" y2="236.90" stroke="#000" stroke-width="1.15" />
<text x="242.50" y="239.20" font-size="6.2" font-weight="bold" font-style="normal" text-anchor="end" fill="#000" stroke="#000" stroke-width="0.25">3</text>
<line x1="242.90" y1="224.90" x2="245.80" y2="224.90" stroke="#000" stroke-width="1.15" />
<text x="242.50" y="227.20" font-size="6.2" font-weight="bold" font-style="normal" text-anchor="end" fill="#000" stroke="#000" stroke-width="0.25">4</text>
<line x1="242.90" y1="212.90" x2="245.80" y2="212.90" stroke="#000" stroke-width="1.15" />
<text x="242.50" y="215.20" font-size="6.2" font-weight="bold" font-style="normal" text-anchor="end" fill="#000" stroke="#000" stroke-width="0.25">5</text>
<line x1="242.90" y1="200.90" x2="245.80" y2="200.90" stroke="#000" stroke-width="1.15" />
<text x="242.50" y="203.20" font-size="6.2" font-weight="bold" font-style="normal" text-anchor="end" fill="#000" stroke="#000" stroke-width="0.25">6</text>
<line x1="242.90" y1="188.90" x2="245.80" y2="188.90" stroke="#000" stroke-width="1.15" />
<text x="242.50" y="191.20" font-size="6.2" font-weight="bold" font-style="normal" text-anchor="end" fill="#000" stroke="#000" stroke-width="0.25">7</text>
<line x1="246.30" y1="260.90" x2="298.80" y2="260.90" stroke="#999" stroke-width="0.75" />
<line x1="245.80" y1="267.50" x2="245.80" y2="277.20" stroke="#000" stroke-width="1.6" />
<line x1="243.50" y1="267.50" x2="248.10" y2="267.50" stroke="#000" stroke-width="1.15" />
<line x1="242.90" y1="272.00" x2="245.80" y2="272.00" stroke="#000" stroke-width="1.15" />
<text x="242.50" y="274.20" font-size="6.3" font-weight="bold" font-style="normal" text-anchor="end" fill="#000" stroke="#000" stroke-width="0.3">&lt;1</text>
<line x1="245.10" y1="276.50" x2="298.80" y2="276.50" stroke="#000" stroke-width="1.5" />
<text x="231.90" y="232.40" font-size="6.6" font-weight="bold" text-anchor="middle" stroke="#000" stroke-width="0.22" transform="rotate(-90 231.90 232.40)" textLength="100" lengthAdjust="spacingAndGlyphs">MHV titer (log<tspan font-size="70%" dy="1.2">10</tspan><tspan dy="-1.2"> pfu/g organ)</tspan></text>
<rect x="248.30" y="269.90" width="4.2" height="4.2" fill="#000"/>
<rect x="250.70" y="269.90" width="4.2" height="4.2" fill="#000"/>
<rect x="253.10" y="269.90" width="4.2" height="4.2" fill="#000"/>
<circle cx="263.80" cy="272.00" r="2.25" fill="#000"/>
<circle cx="266.00" cy="272.00" r="2.25" fill="#000"/>
<circle cx="268.00" cy="272.00" r="2.25" fill="#000"/>
<rect x="274.55" y="270.35" width="3.3" height="3.3" fill="#fff" stroke="#000" stroke-width="1.0"/>
<rect x="277.35" y="270.35" width="3.3" height="3.3" fill="#fff" stroke="#000" stroke-width="1.0"/>
<rect x="280.15" y="270.35" width="3.3" height="3.3" fill="#fff" stroke="#000" stroke-width="1.0"/>
<rect x="276.85" y="238.95" width="3.3" height="3.3" fill="#fff" stroke="#000" stroke-width="1.0"/>
<rect x="276.85" y="250.35" width="3.3" height="3.3" fill="#fff" stroke="#000" stroke-width="1.0"/>
<line x1="274.60" y1="258.60" x2="283.00" y2="258.60" stroke="#000" stroke-width="0.9" />
<line x1="288.00" y1="240.20" x2="297.00" y2="240.20" stroke="#000" stroke-width="0.9" />
<circle cx="286.60" cy="234.90" r="1.55" fill="#fff" stroke="#000" stroke-width="1.15"/>
<circle cx="292.00" cy="235.80" r="1.55" fill="#fff" stroke="#000" stroke-width="1.15"/>
<circle cx="291.70" cy="244.90" r="1.55" fill="#fff" stroke="#000" stroke-width="1.15"/>
<circle cx="294.80" cy="244.40" r="1.55" fill="#fff" stroke="#000" stroke-width="1.15"/>
<text x="277.20" y="177.00" font-size="7.3" font-weight="normal" text-anchor="middle" stroke="#000" stroke-width="0.45"><tspan font-style="italic">P</tspan> &lt; .001</text>
<path d="M250.00 182.20V179.80H288.70V182.20" fill="none" stroke="#000" stroke-width="1.0"/>
<text x="279.00" y="189.40" font-size="7.3" font-weight="normal" text-anchor="middle" stroke="#000" stroke-width="0.45"><tspan font-style="italic">P</tspan> &lt; .001</text>
<path d="M264.20 194.30V191.50H289.20V194.30" fill="none" stroke="#000" stroke-width="1.0"/>
<line x1="172.50" y1="285.70" x2="292.00" y2="285.70" stroke="#000" stroke-width="1.35" />
<text x="232.70" y="296.00" font-size="9.7" font-weight="normal" font-style="normal" text-anchor="middle" fill="#000" stroke="#000" stroke-width="0.22">blood</text>
<line x1="345.30" y1="25.70" x2="345.30" y2="131.60" stroke="#000" stroke-width="1.8" />
<line x1="340.90" y1="130.80" x2="396.70" y2="130.80" stroke="#000" stroke-width="1.9" />
<line x1="340.90" y1="130.80" x2="345.30" y2="130.80" stroke="#000" stroke-width="1.25" />
<text x="341.30" y="133.45" font-size="7.5" font-weight="bold" font-style="normal" text-anchor="end" fill="#000" stroke="#000" stroke-width="0.22">0</text>
<line x1="340.90" y1="109.90" x2="345.30" y2="109.90" stroke="#000" stroke-width="1.25" />
<text x="341.30" y="112.55" font-size="7.5" font-weight="bold" font-style="normal" text-anchor="end" fill="#000" stroke="#000" stroke-width="0.22">500</text>
<line x1="340.90" y1="89.00" x2="345.30" y2="89.00" stroke="#000" stroke-width="1.25" />
<text x="341.30" y="91.65" font-size="7.5" font-weight="bold" font-style="normal" text-anchor="end" fill="#000" stroke="#000" stroke-width="0.22">1000</text>
<line x1="340.90" y1="68.10" x2="345.30" y2="68.10" stroke="#000" stroke-width="1.25" />
<text x="341.30" y="70.75" font-size="7.5" font-weight="bold" font-style="normal" text-anchor="end" fill="#000" stroke="#000" stroke-width="0.22">1500</text>
<line x1="340.90" y1="47.20" x2="345.30" y2="47.20" stroke="#000" stroke-width="1.25" />
<text x="341.30" y="49.85" font-size="7.5" font-weight="bold" font-style="normal" text-anchor="end" fill="#000" stroke="#000" stroke-width="0.22">2000</text>
<line x1="340.90" y1="26.30" x2="345.30" y2="26.30" stroke="#000" stroke-width="1.25" />
<text x="341.30" y="28.95" font-size="7.5" font-weight="bold" font-style="normal" text-anchor="end" fill="#000" stroke="#000" stroke-width="0.22">2500</text>
<text x="317.30" y="78.60" font-size="9.0" font-weight="bold" text-anchor="middle" stroke="#000" stroke-width="0.22" transform="rotate(-90 317.30 78.60)">ALT (IU/L)</text>
<rect x="349.30" y="126.90" width="17.40" height="3.90" fill="#000"/>
<line x1="358.00" y1="126.00" x2="358.00" y2="126.90" stroke="#000" stroke-width="1.1" />
<line x1="353.75" y1="126.00" x2="362.25" y2="126.00" stroke="#000" stroke-width="1.3" />
<rect x="374.20" y="69.00" width="18.60" height="61.70" fill="#000"/>
<line x1="383.50" y1="42.50" x2="383.50" y2="69.00" stroke="#000" stroke-width="1.1" />
<line x1="378.50" y1="42.50" x2="388.50" y2="42.50" stroke="#000" stroke-width="1.3" />
<text x="372.40" y="23.60" font-size="5.6" font-weight="bold" text-anchor="middle"><tspan font-style="italic">P</tspan> &lt; .001</text>
<path d="M358.40 31.00V28.90H382.50V31.00" fill="none" stroke="#000" stroke-width="0.75"/>
<text x="359.40" y="136.20" font-size="7.6" text-anchor="end" stroke="#000" stroke-width="0.22" transform="rotate(-90 359.40 136.20)">WT</text>
<text x="387.80" y="135.40" font-size="7.6" text-anchor="end" stroke="#000" stroke-width="0.22" transform="rotate(-90 387.80 135.40)"><tspan font-style="italic">irf7</tspan><tspan font-style="italic" baseline-shift="super" font-size="70%">-/-</tspan></text>
<line x1="448.80" y1="25.90" x2="448.80" y2="131.80" stroke="#000" stroke-width="1.8" />
<line x1="444.40" y1="131.00" x2="517.00" y2="131.00" stroke="#000" stroke-width="1.9" />
<line x1="444.40" y1="131.00" x2="448.80" y2="131.00" stroke="#000" stroke-width="1.25" />
<text x="444.60" y="133.65" font-size="7.5" font-weight="bold" font-style="normal" text-anchor="end" fill="#000" stroke="#000" stroke-width="0.22">0</text>
<line x1="444.40" y1="110.10" x2="448.80" y2="110.10" stroke="#000" stroke-width="1.25" />
<text x="444.60" y="112.75" font-size="7.5" font-weight="bold" font-style="normal" text-anchor="end" fill="#000" stroke="#000" stroke-width="0.22">500</text>
<line x1="444.40" y1="89.20" x2="448.80" y2="89.20" stroke="#000" stroke-width="1.25" />
<text x="444.60" y="91.85" font-size="7.5" font-weight="bold" font-style="normal" text-anchor="end" fill="#000" stroke="#000" stroke-width="0.22">1000</text>
<line x1="444.40" y1="68.30" x2="448.80" y2="68.30" stroke="#000" stroke-width="1.25" />
<text x="444.60" y="70.95" font-size="7.5" font-weight="bold" font-style="normal" text-anchor="end" fill="#000" stroke="#000" stroke-width="0.22">1500</text>
<line x1="444.40" y1="47.40" x2="448.80" y2="47.40" stroke="#000" stroke-width="1.25" />
<text x="444.60" y="50.05" font-size="7.5" font-weight="bold" font-style="normal" text-anchor="end" fill="#000" stroke="#000" stroke-width="0.22">2000</text>
<line x1="444.40" y1="26.50" x2="448.80" y2="26.50" stroke="#000" stroke-width="1.25" />
<text x="444.60" y="29.15" font-size="7.5" font-weight="bold" font-style="normal" text-anchor="end" fill="#000" stroke="#000" stroke-width="0.22">2500</text>
<text x="421.00" y="78.80" font-size="9.0" font-weight="bold" text-anchor="middle" stroke="#000" stroke-width="0.22" transform="rotate(-90 421.00 78.80)">ALT (IU/L)</text>
<rect x="450.50" y="128.00" width="13.80" height="3.00" fill="#000"/>
<line x1="457.40" y1="127.40" x2="457.40" y2="128.00" stroke="#000" stroke-width="1.1" />
<line x1="453.40" y1="127.40" x2="461.40" y2="127.40" stroke="#000" stroke-width="1.3" />
<rect x="468.70" y="125.40" width="12.90" height="5.60" fill="#000"/>
<line x1="475.15" y1="124.80" x2="475.15" y2="125.40" stroke="#000" stroke-width="1.1" />
<line x1="471.15" y1="124.80" x2="479.15" y2="124.80" stroke="#000" stroke-width="1.3" />
<rect x="486.40" y="83.90" width="12.90" height="47.10" fill="#000"/>
<line x1="492.85" y1="73.60" x2="492.85" y2="83.90" stroke="#000" stroke-width="1.1" />
<line x1="489.35" y1="73.60" x2="496.35" y2="73.60" stroke="#000" stroke-width="1.3" />
<rect x="503.60" y="72.40" width="13.20" height="58.60" fill="#000"/>
<line x1="510.20" y1="48.30" x2="510.20" y2="72.40" stroke="#000" stroke-width="1.1" />
<line x1="505.45" y1="48.30" x2="514.95" y2="48.30" stroke="#000" stroke-width="1.3" />
<text x="496.00" y="20.60" font-size="5.6" font-weight="bold" text-anchor="middle"><tspan font-style="italic">P</tspan> &lt; .05</text>
<path d="M459.00 28.10V23.90H510.00V28.10" fill="none" stroke="#000" stroke-width="0.75"/>
<text x="496.00" y="31.60" font-size="5.6" font-weight="bold" text-anchor="middle"><tspan font-style="italic">P</tspan> &lt; .05</text>
<path d="M476.40 39.00V35.10H510.00V39.00" fill="none" stroke="#000" stroke-width="0.75"/>
<text x="459.30" y="135.30" font-size="7.6" text-anchor="end" stroke="#000" stroke-width="0.22" transform="rotate(-90 459.30 135.30)">WT&gt;WT</text>
<text x="477.40" y="135.30" font-size="7.6" text-anchor="end" stroke="#000" stroke-width="0.22" transform="rotate(-90 477.40 135.30)">WT&gt;<tspan font-style="italic">irf7</tspan><tspan font-style="italic" baseline-shift="super" font-size="70%">-/-</tspan></text>
<text x="494.90" y="135.30" font-size="7.6" text-anchor="end" stroke="#000" stroke-width="0.22" transform="rotate(-90 494.90 135.30)"><tspan font-style="italic">irf7</tspan><tspan font-style="italic" baseline-shift="super" font-size="70%">-/-</tspan>&gt;WT</text>
<text x="511.70" y="135.30" font-size="7.6" text-anchor="end" stroke="#000" stroke-width="0.22" transform="rotate(-90 511.70 135.30)"><tspan font-style="italic">irf7</tspan><tspan font-style="italic" baseline-shift="super" font-size="70%">-/-</tspan>&gt;<tspan font-style="italic">irf7</tspan><tspan font-style="italic" baseline-shift="super" font-size="70%">-/-</tspan></text>
</svg>
</body></html>
